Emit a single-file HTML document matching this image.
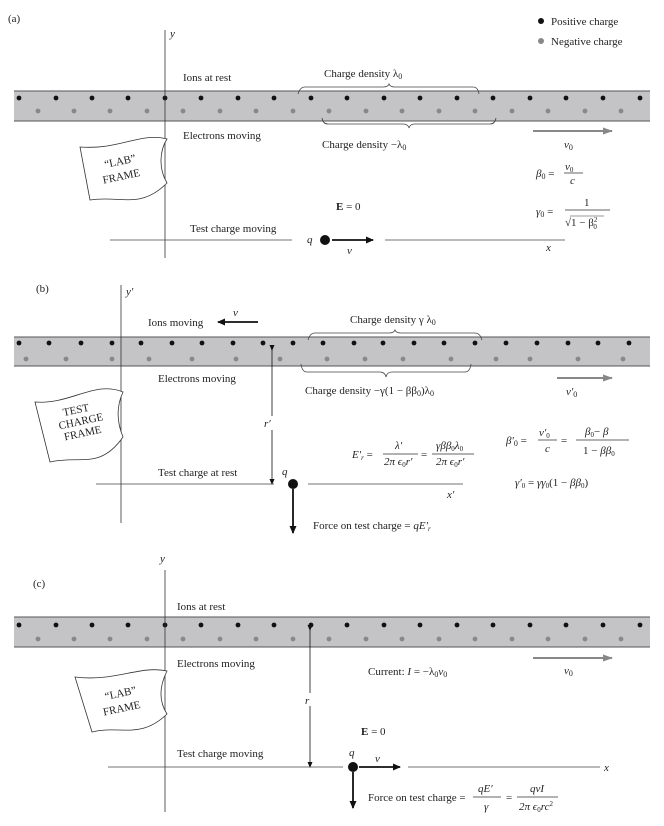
<!DOCTYPE html>
<html><head><meta charset="utf-8"><style>
html,body{margin:0;padding:0;background:#fff}
svg{display:block}
text{font-family:"Liberation Serif",serif;font-size:11px;fill:#222}
.i{font-style:italic}
</style></head><body>
<svg width="664" height="826" viewBox="0 0 664 826" xmlns="http://www.w3.org/2000/svg">
<defs>
<marker id="ak" markerWidth="8" markerHeight="8" refX="7" refY="4" orient="auto" markerUnits="userSpaceOnUse"><path d="M0,0.5 L8,4 L0,7.5z" fill="#111"/></marker>
<marker id="ag" markerWidth="10" markerHeight="8" refX="9" refY="4" orient="auto" markerUnits="userSpaceOnUse"><path d="M0,0.5 L10,4 L0,7.5z" fill="#888"/></marker>
<marker id="as" markerWidth="6" markerHeight="6" refX="5" refY="3" orient="auto" markerUnits="userSpaceOnUse"><path d="M0,0.5 L6,3 L0,5.5z" fill="#111"/></marker>
</defs>

<!-- ===== (a) ===== -->
<text x="8" y="22">(a)</text>
<circle cx="541" cy="21" r="3" fill="#111"/><text x="551" y="25">Positive charge</text>
<circle cx="541" cy="41" r="3" fill="#888"/><text x="551" y="45">Negative charge</text>
<rect x="14" y="91" width="636" height="30" fill="#c4c4c6"/>
<line x1="14" y1="91" x2="650" y2="91" stroke="#555"/><line x1="14" y1="121" x2="650" y2="121" stroke="#555"/>
<g fill="#111">
<circle cx="19" cy="98" r="2.4"/><circle cx="56" cy="98" r="2.4"/><circle cx="92" cy="98" r="2.4"/><circle cx="128" cy="98" r="2.4"/><circle cx="165" cy="98" r="2.4"/><circle cx="201" cy="98" r="2.4"/><circle cx="238" cy="98" r="2.4"/><circle cx="274" cy="98" r="2.4"/><circle cx="311" cy="98" r="2.4"/><circle cx="347" cy="98" r="2.4"/><circle cx="384" cy="98" r="2.4"/><circle cx="420" cy="98" r="2.4"/><circle cx="457" cy="98" r="2.4"/><circle cx="493" cy="98" r="2.4"/><circle cx="530" cy="98" r="2.4"/><circle cx="566" cy="98" r="2.4"/><circle cx="603" cy="98" r="2.4"/><circle cx="640" cy="98" r="2.4"/></g>
<g fill="#888">
<circle cx="38" cy="111" r="2.4"/><circle cx="74" cy="111" r="2.4"/><circle cx="110" cy="111" r="2.4"/><circle cx="147" cy="111" r="2.4"/><circle cx="183" cy="111" r="2.4"/><circle cx="220" cy="111" r="2.4"/><circle cx="256" cy="111" r="2.4"/><circle cx="293" cy="111" r="2.4"/><circle cx="329" cy="111" r="2.4"/><circle cx="366" cy="111" r="2.4"/><circle cx="402" cy="111" r="2.4"/><circle cx="439" cy="111" r="2.4"/><circle cx="475" cy="111" r="2.4"/><circle cx="512" cy="111" r="2.4"/><circle cx="548" cy="111" r="2.4"/><circle cx="585" cy="111" r="2.4"/><circle cx="621" cy="111" r="2.4"/></g>
<line x1="165" y1="30" x2="165" y2="258" stroke="#333" stroke-width="0.8"/>
<text x="170" y="37" class="i">y</text>
<text x="183" y="81">Ions at rest</text>
<path d="M298,94 Q300,87 305,87 L383,87 Q388,87 389,84 Q390,87 395,87 L473,87 Q478,87 479,94" fill="none" stroke="#444" stroke-width="0.8"/>
<text x="324" y="77">Charge density λ<tspan font-size="8" dy="2">0</tspan></text>
<path d="M322,118 Q323,124 328,124 L403,124 Q408,124 409,128 Q410,124 415,124 L490,124 Q495,124 496,118" fill="none" stroke="#444" stroke-width="0.8"/>
<text x="322" y="148">Charge density −λ<tspan font-size="8" dy="2">0</tspan></text>
<text x="183" y="139">Electrons moving</text>
<path d="M167,139 C140,132 120,150 80,147 L90,200 C120,195 140,210 167,183 C158,168 160,150 167,139z" fill="#fff" stroke="#333" stroke-width="0.8"/>
<text x="106" y="165" transform="rotate(-12 120 170)">“LAB”</text>
<text x="101" y="180" transform="rotate(-12 120 170)">FRAME</text>
<line x1="533" y1="131" x2="612" y2="131" stroke="#888" stroke-width="2" marker-end="url(#ag)"/>
<text x="564" y="148" class="i">v<tspan font-size="8" dy="2" font-style="normal">0</tspan></text>
<text x="536" y="177" class="i">β<tspan font-size="8" dy="2" font-style="normal">0</tspan><tspan dy="-2" font-style="normal"> =</tspan></text>
<line x1="564" y1="173" x2="583" y2="173" stroke="#333" stroke-width="0.8"/>
<text x="565" y="170" class="i" font-size="10">v<tspan font-size="7" dy="2" font-style="normal">0</tspan></text>
<text x="570" y="184" class="i" font-size="10">c</text>
<text x="536" y="215" class="i">γ<tspan font-size="8" dy="2" font-style="normal">0</tspan><tspan dy="-2" font-style="normal"> =</tspan></text>
<line x1="565" y1="210" x2="610" y2="210" stroke="#333" stroke-width="0.8"/>
<text x="584" y="206" font-size="10">1</text>
<text x="565" y="226" font-size="10">√1 − β<tspan font-size="7" dy="-4">2</tspan><tspan font-size="7" dx="-4" dy="7">0</tspan></text>
<line x1="570" y1="216" x2="604" y2="216" stroke="#333" stroke-width="0.6"/>
<text x="336" y="210"><tspan font-weight="bold">E</tspan> = 0</text>
<text x="190" y="232">Test charge moving</text>
<line x1="110" y1="240" x2="292" y2="240" stroke="#444" stroke-width="0.8"/>
<line x1="385" y1="240" x2="565" y2="240" stroke="#444" stroke-width="0.8"/>
<text x="307" y="243" class="i" font-size="10">q</text>
<circle cx="325" cy="240" r="5" fill="#111"/>
<line x1="332" y1="240" x2="373" y2="240" stroke="#111" stroke-width="1.8" marker-end="url(#ak)"/>
<text x="347" y="254" class="i" font-size="9">v</text>
<text x="546" y="251" class="i" font-size="10">x</text>

<!-- ===== (b) ===== -->
<text x="36" y="292">(b)</text>
<rect x="14" y="337" width="636" height="29" fill="#c4c4c6"/>
<line x1="14" y1="337" x2="650" y2="337" stroke="#555"/><line x1="14" y1="366" x2="650" y2="366" stroke="#555"/>
<g fill="#111">
<circle cx="19" cy="343" r="2.4"/><circle cx="49" cy="343" r="2.4"/><circle cx="81" cy="343" r="2.4"/><circle cx="112" cy="343" r="2.4"/><circle cx="141" cy="343" r="2.4"/><circle cx="172" cy="343" r="2.4"/><circle cx="202" cy="343" r="2.4"/><circle cx="233" cy="343" r="2.4"/><circle cx="263" cy="343" r="2.4"/><circle cx="293" cy="343" r="2.4"/><circle cx="323" cy="343" r="2.4"/><circle cx="354" cy="343" r="2.4"/><circle cx="383" cy="343" r="2.4"/><circle cx="414" cy="343" r="2.4"/><circle cx="444" cy="343" r="2.4"/><circle cx="475" cy="343" r="2.4"/><circle cx="506" cy="343" r="2.4"/><circle cx="537" cy="343" r="2.4"/><circle cx="568" cy="343" r="2.4"/><circle cx="598" cy="343" r="2.4"/><circle cx="629" cy="343" r="2.4"/></g>
<g fill="#888">
<circle cx="26" cy="359" r="2.4"/><circle cx="66" cy="359" r="2.4"/><circle cx="112" cy="359" r="2.4"/><circle cx="149" cy="359" r="2.4"/><circle cx="192" cy="359" r="2.4"/><circle cx="236" cy="359" r="2.4"/><circle cx="280" cy="359" r="2.4"/><circle cx="327" cy="359" r="2.4"/><circle cx="365" cy="359" r="2.4"/><circle cx="403" cy="359" r="2.4"/><circle cx="451" cy="359" r="2.4"/><circle cx="496" cy="359" r="2.4"/><circle cx="530" cy="359" r="2.4"/><circle cx="578" cy="359" r="2.4"/><circle cx="623" cy="359" r="2.4"/></g>
<line x1="121" y1="285" x2="121" y2="523" stroke="#333" stroke-width="0.8"/>
<text x="126" y="295" class="i">y′</text>
<text x="148" y="326">Ions moving</text>
<line x1="258" y1="322" x2="218" y2="322" stroke="#111" stroke-width="1.8" marker-end="url(#ak)"/>
<text x="233" y="316" class="i" font-size="9">v</text>
<path d="M308,340 Q310,333 315,333 L389,333 Q394,333 395,330 Q396,333 401,333 L475,333 Q480,333 482,340" fill="none" stroke="#444" stroke-width="0.8"/>
<text x="350" y="323">Charge density γ λ<tspan font-size="8" dy="2">0</tspan></text>
<path d="M301,364 Q302,372 307,372 L380,372 Q385,372 386,377 Q387,372 392,372 L465,372 Q470,372 471,364" fill="none" stroke="#444" stroke-width="0.8"/>
<text x="305" y="394">Charge density −γ(1 − ββ<tspan font-size="8" dy="2">0</tspan><tspan dy="-2">)λ</tspan><tspan font-size="8" dy="2">0</tspan></text>
<text x="158" y="382">Electrons moving</text>
<path d="M123,392 C95,380 70,405 35,402 L50,462 C80,455 100,470 123,437 C116,420 117,405 123,392z" fill="#fff" stroke="#333" stroke-width="0.8"/>
<g transform="rotate(-12 80 425)" font-size="9.5">
<text x="66" y="413" font-size="9.5">TEST</text><text x="59" y="425" font-size="9.5">CHARGE</text><text x="62" y="437" font-size="9.5">FRAME</text></g>
<line x1="557" y1="378" x2="612" y2="378" stroke="#888" stroke-width="2" marker-end="url(#ag)"/>
<text x="566" y="395" class="i">v′<tspan font-size="8" dy="2" font-style="normal">0</tspan></text>
<line x1="272" y1="350" x2="272" y2="484" stroke="#111" stroke-width="0.8" marker-start="url(#as)" marker-end="url(#as)"/>
<rect x="262" y="416" width="16" height="14" fill="#fff"/>
<text x="264" y="427" class="i">r′</text>
<text x="352" y="458" class="i">E′<tspan font-size="7" dy="2">r</tspan><tspan dy="-2" font-style="normal"> =</tspan></text>
<line x1="383" y1="454" x2="418" y2="454" stroke="#333" stroke-width="0.8"/>
<text x="395" y="449" class="i" font-size="10">λ′</text>
<text x="384" y="465" class="i" font-size="10">2π ϵ<tspan font-size="7" dy="2" font-style="normal">0</tspan><tspan dy="-2">r′</tspan></text>
<text x="421" y="458">=</text>
<line x1="432" y1="454" x2="474" y2="454" stroke="#333" stroke-width="0.8"/>
<text x="436" y="449" class="i" font-size="10">γββ<tspan font-size="7" dy="2" font-style="normal">0</tspan><tspan dy="-2">λ</tspan><tspan font-size="7" dy="2" font-style="normal">0</tspan></text>
<text x="436" y="465" class="i" font-size="10">2π ϵ<tspan font-size="7" dy="2" font-style="normal">0</tspan><tspan dy="-2">r′</tspan></text>
<text x="506" y="444" class="i">β′<tspan font-size="8" dy="2" font-style="normal">0</tspan><tspan dy="-2" font-style="normal"> =</tspan></text>
<line x1="538" y1="440" x2="557" y2="440" stroke="#333" stroke-width="0.8"/>
<text x="539" y="436" class="i" font-size="10">v′<tspan font-size="7" dy="2" font-style="normal">0</tspan></text>
<text x="545" y="452" class="i" font-size="10">c</text>
<text x="561" y="444">=</text>
<line x1="576" y1="440" x2="629" y2="440" stroke="#333" stroke-width="0.8"/>
<text x="585" y="435" class="i" font-size="10">β<tspan font-size="7" dy="2" font-style="normal">0</tspan><tspan dy="-2" font-style="normal">− </tspan>β</text>
<text x="583" y="454" class="i" font-size="10"><tspan font-style="normal">1 − </tspan>ββ<tspan font-size="7" dy="2" font-style="normal">0</tspan></text>
<text x="515" y="486" class="i" font-size="10">γ′<tspan font-size="7" dy="2" font-style="normal">0</tspan><tspan dy="-2" font-style="normal"> = </tspan>γγ<tspan font-size="7" dy="2" font-style="normal">0</tspan><tspan dy="-2" font-style="normal">(1 − </tspan>ββ<tspan font-size="7" dy="2" font-style="normal">0</tspan><tspan dy="-2" font-style="normal">)</tspan></text>
<text x="158" y="476">Test charge at rest</text>
<line x1="96" y1="484" x2="274" y2="484" stroke="#444" stroke-width="0.8"/>
<line x1="308" y1="484" x2="463" y2="484" stroke="#444" stroke-width="0.8"/>
<text x="282" y="475" class="i" font-size="10">q</text>
<circle cx="293" cy="484" r="5" fill="#111"/>
<line x1="293" y1="489" x2="293" y2="533" stroke="#111" stroke-width="1.8" marker-end="url(#ak)"/>
<text x="447" y="498" class="i" font-size="10">x′</text>
<text x="313" y="529">Force on test charge = <tspan font-style="italic">qE′</tspan><tspan font-size="7" dy="2" font-style="italic">r</tspan></text>

<!-- ===== (c) ===== -->
<text x="33" y="587">(c)</text>
<rect x="14" y="617" width="636" height="30" fill="#c4c4c6"/>
<line x1="14" y1="617" x2="650" y2="617" stroke="#555"/><line x1="14" y1="647" x2="650" y2="647" stroke="#555"/>
<g fill="#111">
<circle cx="19" cy="625" r="2.4"/><circle cx="56" cy="625" r="2.4"/><circle cx="92" cy="625" r="2.4"/><circle cx="128" cy="625" r="2.4"/><circle cx="165" cy="625" r="2.4"/><circle cx="201" cy="625" r="2.4"/><circle cx="238" cy="625" r="2.4"/><circle cx="274" cy="625" r="2.4"/><circle cx="311" cy="625" r="2.4"/><circle cx="347" cy="625" r="2.4"/><circle cx="384" cy="625" r="2.4"/><circle cx="420" cy="625" r="2.4"/><circle cx="457" cy="625" r="2.4"/><circle cx="493" cy="625" r="2.4"/><circle cx="530" cy="625" r="2.4"/><circle cx="566" cy="625" r="2.4"/><circle cx="603" cy="625" r="2.4"/><circle cx="640" cy="625" r="2.4"/></g>
<g fill="#888">
<circle cx="38" cy="639" r="2.4"/><circle cx="74" cy="639" r="2.4"/><circle cx="110" cy="639" r="2.4"/><circle cx="147" cy="639" r="2.4"/><circle cx="183" cy="639" r="2.4"/><circle cx="220" cy="639" r="2.4"/><circle cx="256" cy="639" r="2.4"/><circle cx="293" cy="639" r="2.4"/><circle cx="329" cy="639" r="2.4"/><circle cx="366" cy="639" r="2.4"/><circle cx="402" cy="639" r="2.4"/><circle cx="439" cy="639" r="2.4"/><circle cx="475" cy="639" r="2.4"/><circle cx="512" cy="639" r="2.4"/><circle cx="548" cy="639" r="2.4"/><circle cx="585" cy="639" r="2.4"/><circle cx="621" cy="639" r="2.4"/></g>
<line x1="165" y1="570" x2="165" y2="812" stroke="#333" stroke-width="0.8"/>
<text x="160" y="562" class="i">y</text>
<text x="177" y="610">Ions at rest</text>
<text x="177" y="667">Electrons moving</text>
<path d="M167,671 C140,665 115,682 75,677 L92,732 C120,725 140,740 167,714 C158,700 160,685 167,671z" fill="#fff" stroke="#333" stroke-width="0.8"/>
<text x="106" y="697" transform="rotate(-12 120 700)">“LAB”</text>
<text x="101" y="712" transform="rotate(-12 120 700)">FRAME</text>
<text x="368" y="675">Current: <tspan font-style="italic">I</tspan> = −λ<tspan font-size="8" dy="2">0</tspan><tspan dy="-2" font-style="italic">v</tspan><tspan font-size="8" dy="2">0</tspan></text>
<line x1="533" y1="658" x2="612" y2="658" stroke="#888" stroke-width="2" marker-end="url(#ag)"/>
<text x="564" y="674" class="i">v<tspan font-size="8" dy="2" font-style="normal">0</tspan></text>
<line x1="310" y1="630" x2="310" y2="767" stroke="#111" stroke-width="0.8" marker-start="url(#as)" marker-end="url(#as)"/>
<rect x="303" y="693" width="14" height="13" fill="#fff"/>
<text x="305" y="704" class="i">r</text>
<text x="361" y="735"><tspan font-weight="bold">E</tspan> = 0</text>
<text x="177" y="757">Test charge moving</text>
<line x1="108" y1="767" x2="343" y2="767" stroke="#444" stroke-width="0.8"/>
<line x1="408" y1="767" x2="600" y2="767" stroke="#444" stroke-width="0.8"/>
<text x="349" y="756" class="i" font-size="10">q</text>
<circle cx="353" cy="767" r="5" fill="#111"/>
<line x1="359" y1="767" x2="400" y2="767" stroke="#111" stroke-width="1.8" marker-end="url(#ak)"/>
<text x="375" y="762" class="i" font-size="9">v</text>
<line x1="353" y1="772" x2="353" y2="808" stroke="#111" stroke-width="1.8" marker-end="url(#ak)"/>
<text x="604" y="771" class="i" font-size="10">x</text>
<text x="368" y="801">Force on test charge =</text>
<line x1="473" y1="797" x2="501" y2="797" stroke="#333" stroke-width="0.8"/>
<text x="478" y="792" class="i" font-size="10">qE′</text>
<text x="484" y="810" class="i" font-size="10">γ</text>
<text x="506" y="801">=</text>
<line x1="517" y1="797" x2="558" y2="797" stroke="#333" stroke-width="0.8"/>
<text x="530" y="792" class="i" font-size="10">qvI</text>
<text x="519" y="810" class="i" font-size="10">2π ϵ<tspan font-size="7" dy="2" font-style="normal">0</tspan><tspan dy="-2">rc</tspan><tspan font-size="7" dy="-4" font-style="normal">2</tspan></text>
</svg>
</body></html>
